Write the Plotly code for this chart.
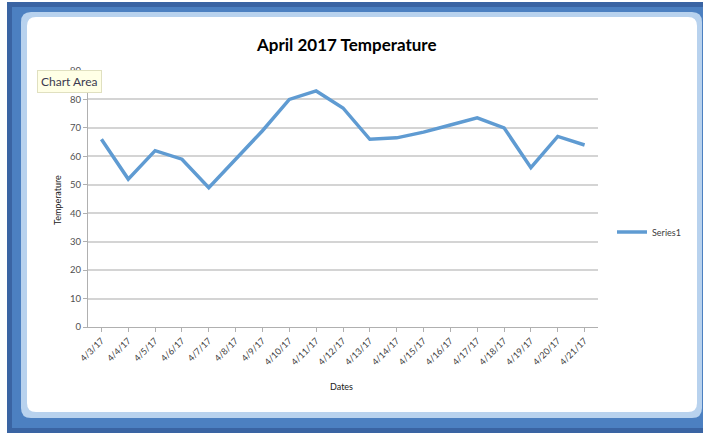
import plotly.graph_objects as go

dates = ["4/3/17", "4/4/17", "4/5/17", "4/6/17", "4/7/17", "4/8/17", "4/9/17",
         "4/10/17", "4/11/17", "4/12/17", "4/13/17", "4/14/17", "4/15/17",
         "4/16/17", "4/17/17", "4/18/17", "4/19/17", "4/20/17", "4/21/17"]
temps = [66, 52, 62, 59, 49, 59, 69, 80, 83, 77, 66, 66.5, 68.5, 71, 73.5, 70, 56, 67, 64]
y_ticks = [0, 10, 20, 30, 40, 50, 60, 70, 80, 90]

W, H = 703, 433
L, R, T, B = 88, 105, 71, 106
PW, PH = W - L - R, H - T - B


def fx(px):
    return (px - L) / PW


def fy(py):
    return (H - B - py) / PH


def rect(x0, y0, x1, y1, color):
    return dict(type="rect", xref="paper", yref="paper", layer="below",
                x0=fx(x0), x1=fx(x1), y0=fy(y1), y1=fy(y0),
                fillcolor=color, line=dict(width=0))


def rounded(x0, y0, x1, y1, r, color):
    X0, X1, Y0, Y1 = fx(x0), fx(x1), fy(y1), fy(y0)
    rx, ry = r / PW, r / PH
    path = (f"M {X0+rx},{Y0} L {X1-rx},{Y0} Q {X1},{Y0} {X1},{Y0+ry} "
            f"L {X1},{Y1-ry} Q {X1},{Y1} {X1-rx},{Y1} L {X0+rx},{Y1} "
            f"Q {X0},{Y1} {X0},{Y1-ry} L {X0},{Y0+ry} Q {X0},{Y0} {X0+rx},{Y0} Z")
    return dict(type="path", xref="paper", yref="paper", layer="below", path=path,
                fillcolor=color, line=dict(width=0))


shapes = [
    rect(7, 2, 703, 433, "#3a64a3"),
    rect(12, 7, 703, 428, "#4c80c1"),
    rounded(21, 12, 702, 418, 10, "#b8d2ee"),
    rounded(27, 17, 697, 412, 9, "#ffffff"),
]

fig = go.Figure()
fig.add_trace(go.Scatter(
    x=dates, y=temps, mode="lines", name="Series1",
    line=dict(color="#5f9bd2", width=3.5),
))

font = "Lato, Open Sans, sans-serif"
fig.update_layout(
    width=W, height=H,
    margin=dict(l=L, r=R, t=T, b=B),
    paper_bgcolor="#ffffff",
    plot_bgcolor="rgba(0,0,0,0)",
    shapes=shapes,
    font=dict(family=font, color="#404040"),
    showlegend=True,
    legend=dict(x=fx(612), y=fy(232), xanchor="left", yanchor="middle",
                font=dict(size=9, color="#404040"), bgcolor="rgba(0,0,0,0)",
                itemwidth=30, tracegroupgap=0),
    xaxis=dict(
        type="category", range=[-0.5, len(dates) - 0.5],
        tickangle=-45, tickfont=dict(size=9, color="#404040"),
        showgrid=False, showline=True, linecolor="#b0b0b0", linewidth=1,
        ticks="outside", ticklen=4, tickcolor="#b0b0b0",
        zeroline=False,
    ),
    yaxis=dict(
        range=[0, 90], tickvals=y_ticks,
        tickfont=dict(size=9.5, color="#505050"),
        showgrid=True, gridcolor="#d4d4d4", gridwidth=2,
        showline=True, linecolor="#b0b0b0", linewidth=1,
        ticks="outside", ticklen=4, tickcolor="#b0b0b0",
        zeroline=False,
    ),
    annotations=[
        dict(text="<b>April 2017 Temperature</b>", xref="paper", yref="paper",
             x=fx(346), y=fy(44), showarrow=False, xanchor="center", yanchor="middle",
             font=dict(size=17, color="#000000", family=font)),
        dict(text="Temperature", xref="paper", yref="paper",
             x=fx(57), y=fy(200), showarrow=False, textangle=-90,
             xanchor="center", yanchor="middle",
             font=dict(size=9, color="#202020", family=font)),
        dict(text="Dates", xref="paper", yref="paper",
             x=fx(341), y=fy(386), showarrow=False, xanchor="center", yanchor="middle",
             font=dict(size=9, color="#202020", family=font)),
        dict(text="Chart Area", xref="paper", yref="paper",
             x=fx(37), y=fy(81), showarrow=False, xanchor="left", yanchor="middle",
             bgcolor="#ffffe6", bordercolor="#e0e0c0", borderwidth=1, borderpad=3,
             font=dict(size=12, color="#3a3a50", family=font)),
    ],
)

fig.write_html("out.html", config={"displayModeBar": False},
               post_script="document.body.style.margin='0';document.body.style.overflow='hidden';")
